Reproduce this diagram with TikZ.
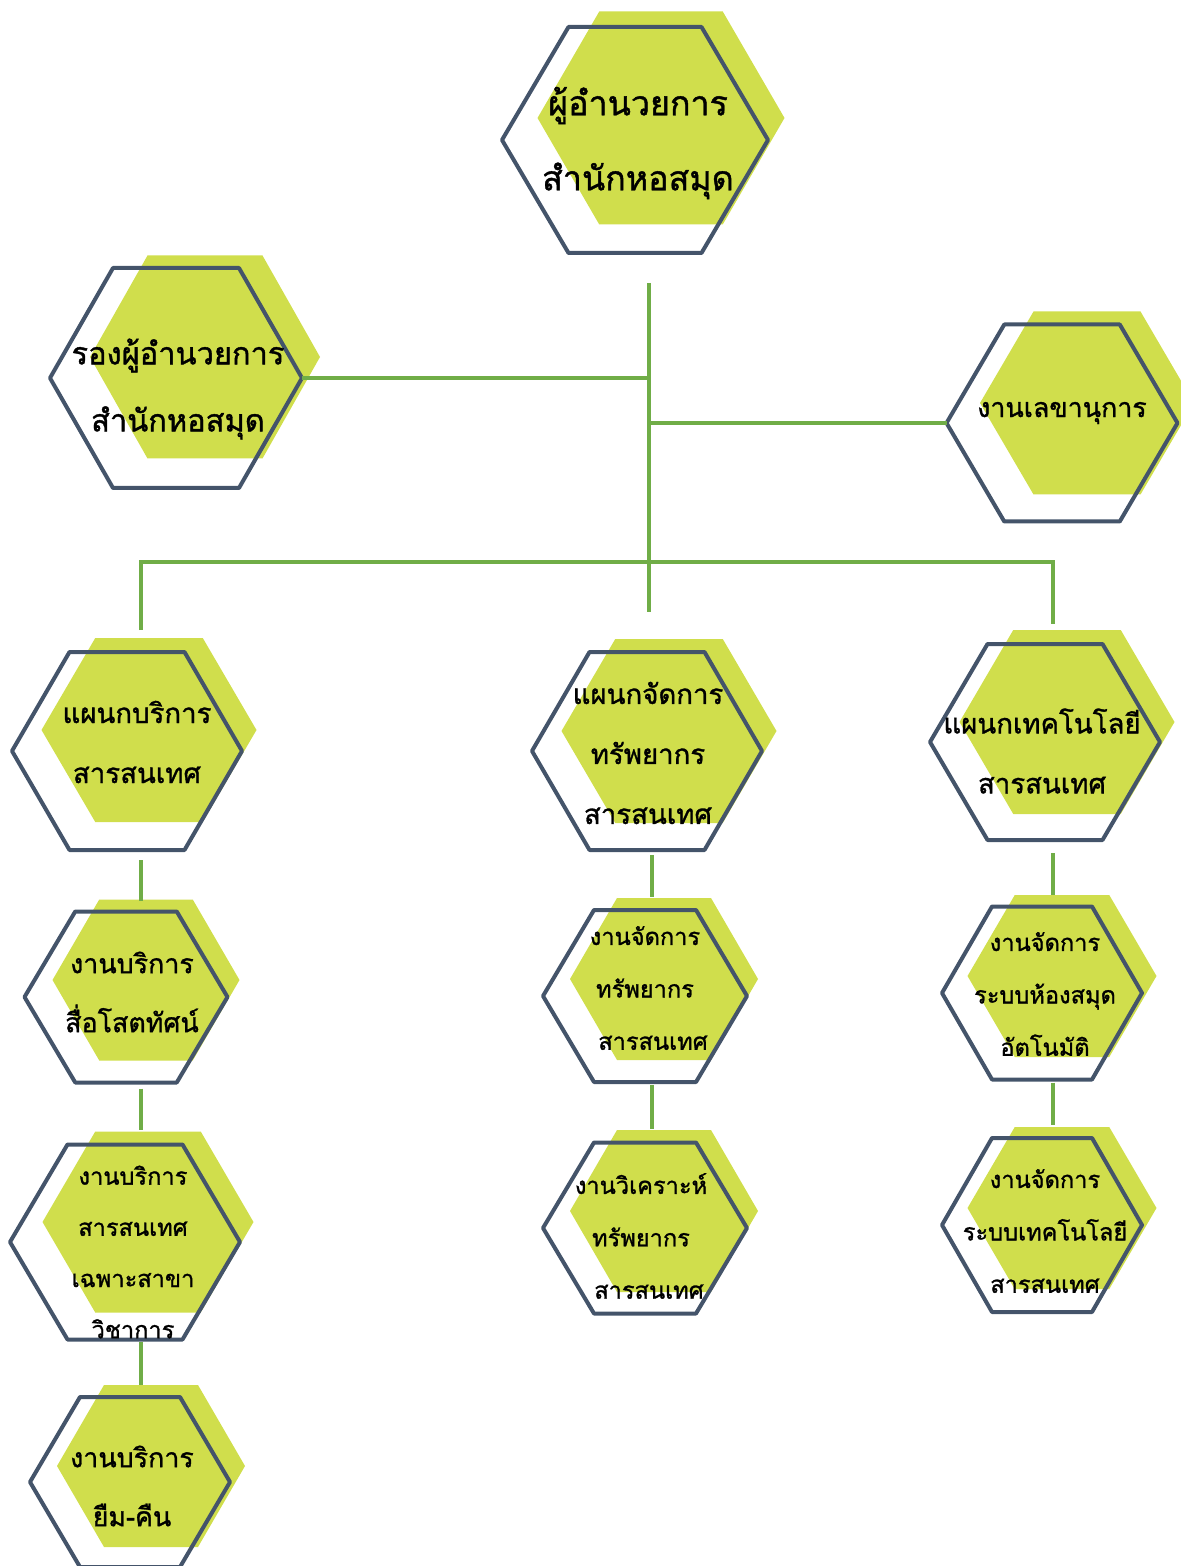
\documentclass[tikz,border=0pt]{standalone}
\usepackage{fontspec}
\newfontfamily\thai[Script=Thai,FakeBold=1.2]{Loma}
\definecolor{hexgreen}{RGB}{208,222,76}
\definecolor{hexedge}{RGB}{68,84,106}
\definecolor{conngreen}{RGB}{112,173,71}
% green hexagon: cx cy w h
\newcommand\greenhex[4]{\fill[hexgreen] ({#1-#3/2},{#2}) -- ({#1-#3/4},{#2-#4/2}) -- ({#1+#3/4},{#2-#4/2}) -- ({#1+#3/2},{#2}) -- ({#1+#3/4},{#2+#4/2}) -- ({#1-#3/4},{#2+#4/2}) -- cycle;}
% outline hexagon node: name cx cy w h
\newcommand\edgehex[5]{%
  \node[hexbox, minimum width={#4*0.5pt}, minimum height={#5*0.5pt}] (#1) at (#2,#3) {};
  \draw[hexline] ({#2-#4/2},{#3}) -- ({#2-#4/4},{#3-#5/2}) -- ({#2+#4/4},{#3-#5/2}) -- ({#2+#4/2},{#3}) -- ({#2+#4/4},{#3+#5/2}) -- ({#2-#4/4},{#3+#5/2}) -- cycle;}
\tikzset{
  hexbox/.style={draw=none, inner sep=0pt, outer sep=0pt},
  hexline/.style={draw=hexedge, line width=2pt, line join=round},
  conn/.style={draw=conngreen, line width=2pt},
  lbl/.style={align=center, inner sep=0pt, text=black},
  fbig/.style={font=\thai\fontsize{17}{37.5}\selectfont},
  fdep/.style={font=\thai\fontsize{15.4}{33.5}\selectfont},
  fsec/.style={font=\thai\fontsize{13.4}{30}\selectfont},
  fdept/.style={font=\thai\fontsize{13.8}{30}\selectfont},
  fmid/.style={font=\thai\fontsize{13.4}{29.5}\selectfont},
  fsmall/.style={font=\thai\fontsize{11.8}{26.2}\selectfont},
  fsmallb/.style={font=\thai\fontsize{11.8}{25.6}\selectfont},
}
\begin{document}
\begin{tikzpicture}[x=0.5pt,y=-0.5pt]
\useasboundingbox (0,0) rectangle (1181,1566);
% ---- green backgrounds
\greenhex{661}{118}{247}{213}
\greenhex{205}{357}{230}{203}
\greenhex{1087}{403}{214}{183}
\greenhex{149}{730}{215}{184}
\greenhex{669}{731}{215}{184}
\greenhex{1067}{722}{215}{184}
\greenhex{146}{980}{187}{161}
\greenhex{664}{979}{188}{162}
\greenhex{1062}{976}{189}{162}
\greenhex{1062}{1208}{189}{162}
\greenhex{148}{1222}{211}{181}
\greenhex{664}{1211}{188}{162}
\greenhex{151}{1466}{188}{162}
% ---- outlines
\edgehex{n1}{635}{140}{266}{226}
\edgehex{n2}{176}{378}{252}{220}
\edgehex{n3}{1062}{423}{231}{197}
\edgehex{n4}{127}{751}{230}{198}
\edgehex{n5}{647}{751}{230}{198}
\edgehex{n6}{1045}{742}{230}{196}
\edgehex{n7}{126}{997}{203}{171}
\edgehex{n8}{645}{996}{204}{172}
\edgehex{n9}{1042}{993}{200}{173}
\edgehex{n10}{1042}{1225}{200}{174}
\edgehex{n11}{125}{1242}{230}{195}
\edgehex{n12}{645}{1228}{204}{171}
\edgehex{n13}{130}{1482}{200}{170}
% ---- labels
\node[lbl,fbig] (t1) at (638,143) {ผู้อำนวยการ\\สำนักหอสมุด};
\node[lbl,fdep] (t2) at (178,389) {รองผู้อำนวยการ\\สำนักหอสมุด};
\node[lbl,fsec] (t3) at (1062,413) {งานเลขานุการ};
\node[lbl,fdept] (t4) at (137,742) {แผนกบริการ\\สารสนเทศ};
\node[lbl,fdept] (t5) at (648,753) {แผนกจัดการ\\ทรัพยากร\\สารสนเทศ};
\node[lbl,fdept] (t6) at (1042,751) {แผนกเทคโนโลยี\\สารสนเทศ};
\node[lbl,fmid] (t7) at (132,992) {งานบริการ\\สื่อโสตทัศน์};
\node[lbl,fsmall] (t8) at (645,988) {งานจัดการ\\ทรัพยากร\\\hspace*{8pt}สารสนเทศ};
\node[lbl,fsmall] (t9) at (1045,994) {งานจัดการ\\ระบบห้องสมุด\\อัตโนมัติ};
\node[lbl,fsmall] (t10) at (1045,1231) {งานจัดการ\\ระบบเทคโนโลยี\\สารสนเทศ};
\node[lbl,fsmallb] (t11) at (133,1252) {งานบริการ\\สารสนเทศ\\เฉพาะสาขา\\วิชาการ};
\node[lbl,fsmall] (t12) at (641,1236) {งานวิเคราะห์\\ทรัพยากร\\\hspace*{8pt}สารสนเทศ};
\node[lbl,fmid] (t13) at (132,1486) {งานบริการ\\ยืม-คืน};
% ---- connector columns
\coordinate (trunk) at (649,0);
\coordinate (bus) at (0,562);
\coordinate (colL) at (141,0);
\coordinate (colM) at (652,0);
\coordinate (colR) at (1053,0);
% ---- connectors
\draw[conn, shorten <=15pt, shorten >=20pt] (n1.south -| trunk) -- (n5.north -| trunk);
\draw[conn] (n2.east) -- (n2.east -| trunk);
\draw[conn] (n3.west -| trunk) -- (n3.west);
\draw[conn, shorten <=11pt, shorten >=10pt] (n4.north -| colL) |- (bus -| colR) -- (n6.north -| colR);
\draw[conn, shorten <=5pt, shorten >=5.5pt] (n4.south -| colL) -- (n7.north -| colL);
\draw[conn, shorten <=3pt, shorten >=7.5pt] (n7.south -| colL) -- (n11.north -| colL);
\draw[conn, shorten <=1pt, shorten >=6pt] (n11.south -| colL) -- (n13.north -| colL);
\draw[conn, shorten <=2.5pt, shorten >=6.5pt] (n5.south -| colM) -- (n8.north -| colM);
\draw[conn, shorten <=1.5pt, shorten >=7pt] (n8.south -| colM) -- (n12.north -| colM);
\draw[conn, shorten <=6.5pt, shorten >=6pt] (n6.south -| colR) -- (n9.north -| colR);
\draw[conn, shorten <=1.5pt, shorten >=6.5pt] (n9.south -| colR) -- (n10.north -| colR);
\end{tikzpicture}
\end{document}
